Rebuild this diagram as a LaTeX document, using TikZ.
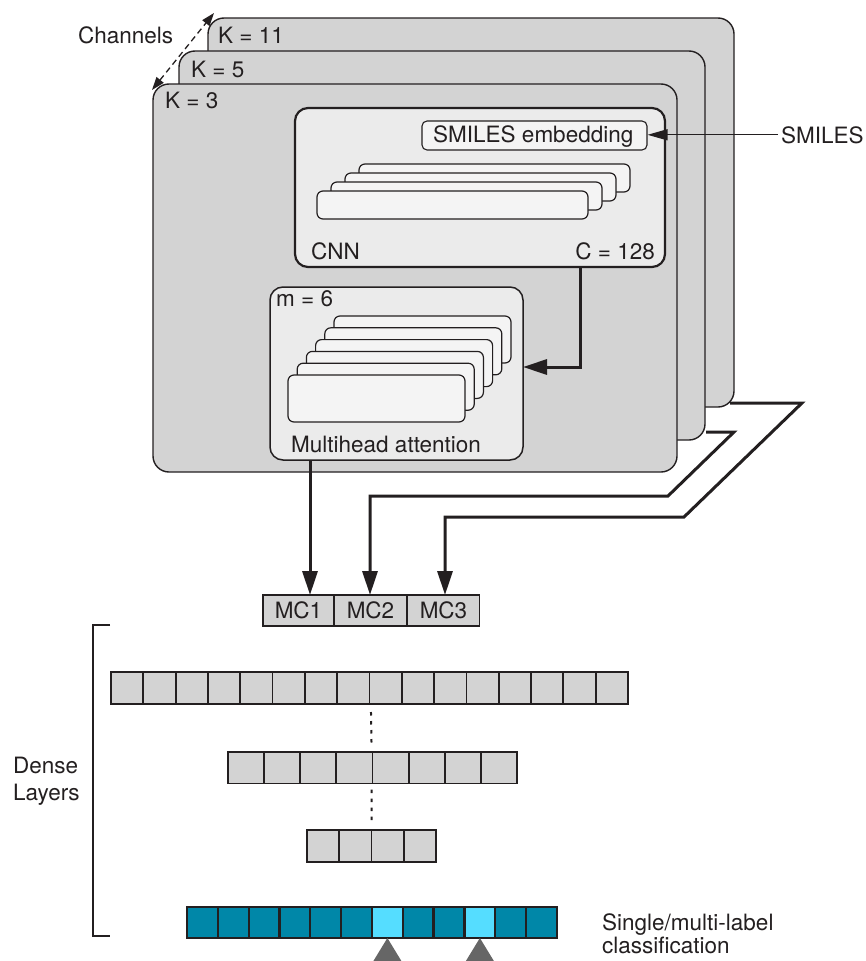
\documentclass[tikz,border=0pt]{standalone}
\usepackage{fontspec}
\setmainfont{TeX Gyre Heros}
\usetikzlibrary{arrows.meta,calc}
\definecolor{ink}{HTML}{231F20}
\definecolor{panelgrey}{HTML}{D3D3D3}
\definecolor{boxgrey}{HTML}{EBEBEB}
\definecolor{sheet}{HTML}{F4F4F4}
\definecolor{outdark}{HTML}{0087A8}
\definecolor{outlight}{HTML}{55DDFF}
\definecolor{pointer}{HTML}{666666}
\begin{document}
\begin{tikzpicture}[x=1pt,y=-1pt,
  font=\fontsize{22.5}{26}\selectfont,
  every node/.style={text=ink},
  corner/.style={anchor=north west, inner sep=0pt, outer sep=0pt},
  panel/.style={corner, draw=ink, fill=panelgrey, line width=1.4pt, rounded corners=16pt},
  cnnbox/.style={corner, draw=ink, fill=boxgrey, line width=2.2pt, rounded corners=13pt},
  attbox/.style={corner, draw=ink, fill=boxgrey, line width=1.5pt, rounded corners=13pt},
  sheetbox/.style={corner, draw=ink, fill=sheet, line width=1.2pt, rounded corners=6pt},
  label/.style={anchor=base west, inner sep=0pt},
  conn/.style={draw=ink, line width=3pt, -{Triangle[length=24pt,width=15pt]}},
  thinarrow/.style={draw=ink, line width=1.3pt, -{Triangle[length=20pt,width=11pt]}},
  mcbox/.style={draw=ink, fill=panelgrey, line width=1.8pt, inner sep=0pt, outer sep=0pt, minimum height=31pt},
  cell/.style={corner, draw=ink, fill=panelgrey, line width=1.8pt},
  outcell/.style={corner, draw=ink, line width=2.3pt, minimum width=30.83pt, minimum height=31pt},
  dots/.style={draw=ink, line width=2pt, dash pattern=on 3.5pt off 5.5pt}
]
\useasboundingbox (0,0) rectangle (866,961);

% channel panels, back to front
\node[panel, minimum width=526pt, minimum height=389pt] (k11) at (208,18) {};
\node[panel, minimum width=526pt, minimum height=389pt] (k5) at (179,51) {};
\node[panel, minimum width=524pt, minimum height=388pt] (k3) at (153,84) {};
\node[label] (k11text) at (218,43) {K = 11};
\node[label] (k5text) at (191,77) {K = 5};
\node[label] (k3text) at (165,108) {K = 3};

% channel axis
\node[label] (channels) at (78,43) {Channels};
\coordinate (chlow) at (152,90);
\coordinate (chhigh) at (214,13);
\draw[draw=ink, line width=1.3pt, dash pattern=on 6pt off 4pt,
  {Triangle[length=13pt,width=9pt]}-{Triangle[length=13pt,width=9pt]}] (chlow) -- (chhigh);

% CNN block
\node[cnnbox, minimum width=370pt, minimum height=159pt] (cnn) at (295,108) {};
\node[draw=ink, fill=sheet, line width=1.1pt, rounded corners=5pt, inner sep=0pt,
  minimum width=225pt, minimum height=29pt] (emb) at (534.5,135.5) {};
\node[label] (embtext) at (433,142) {SMILES embedding};
\foreach \i in {3,2,1,0}
  \node[sheetbox, minimum width=271pt, minimum height=28pt] (conv\i) at ({317+14*\i},{191-9*\i}) {};
\node[label] (cnntext) at (311,259) {CNN};
\node[anchor=base east, inner sep=0pt] (ctext) at (655,259) {C = 128};

% SMILES input
\node[label] (smiles) at (781,143) {SMILES};
\draw[thinarrow] ([xshift=-3pt]smiles.west) -- (emb.east |- smiles.west);

% multihead attention block
\node[attbox, minimum width=253pt, minimum height=173pt] (att) at (270,287) {};
\foreach \i in {5,4,3,2,1,0}
  \node[sheetbox, minimum width=177pt, minimum height=47pt] (head\i) at ({288+9.2*\i},{375-11.8*\i}) {};
\node[label] (mtext) at (276,306) {m = 6};
\node[label] (atttext) at (291,452) {Multihead attention};

% CNN -> attention
\coordinate (elbow) at (580,367);
\draw[conn] (cnn.south -| elbow) -- (elbow) -- (att.east |- elbow);

% concatenated channel outputs
\node[mcbox, minimum width=71pt] (mc1) at (298.5,610.5) {MC1};
\node[mcbox, minimum width=73pt] (mc2) at (370.5,610.5) {MC2};
\node[mcbox, minimum width=72pt] (mc3) at (443.5,610.5) {MC3};

\coordinate (in1) at (310,0);
\coordinate (in2) at (370,0);
\coordinate (in3) at (445,0);
\draw[conn] (att.south -| in1) -- (mc1.north -| in1);

\coordinate (k5out) at (706,432);
\coordinate (k5turn) at (734,432);
\coordinate (k5low) at (668,496);
\draw[conn] (k5out) -- (k5turn) -- (k5low) -- (k5low -| in2) -- (mc2.north -| in2);

\coordinate (k11out) at (730,403);
\coordinate (k11turn) at (802,403);
\coordinate (k11low) at (684,517);
\draw[conn] (k11out) -- (k11turn) -- (k11low) -- (k11low -| in3) -- (mc3.north -| in3);

% dense layers
\foreach \i in {0,...,15}
  \node[cell, minimum width=32.31pt, minimum height=32pt] (la\i) at ({111+32.31*\i},672) {};
\foreach \i in {0,...,7}
  \node[cell, minimum width=36.13pt, minimum height=31.5pt] (lb\i) at ({228+36.13*\i},752) {};
\foreach \i in {0,...,3}
  \node[cell, minimum width=32.25pt, minimum height=32pt] (lc\i) at ({307+32.25*\i},830) {};
\draw[dots] ($(la8.south west)+(1.5,8)$) -- ($(lb4.north west)+(-1,-9)$);
\draw[dots] ($(lb4.south west)+(-1,6)$) -- ($(lc2.north west)+(0,-8)$);

% output layer
\foreach \i in {0,...,11}{
  \ifnum\i=6 \def\cellfill{outlight}\else
  \ifnum\i=9 \def\cellfill{outlight}\else \def\cellfill{outdark}\fi\fi
  \node[outcell, fill=\cellfill] (out\i) at ({187+30.83*\i},907) {};
}
\fill[pointer] (out6.south) -- ++(-14,23) -- ++(28,0) -- cycle;
\fill[pointer] (out9.south) -- ++(-14,23) -- ++(28,0) -- cycle;

% bracket and labels
\draw[draw=ink, line width=1.5pt] (110,625) -- (93,625) -- (93,936) -- (110,936);
\node[label] (dense) at (13,773) {Dense};
\node[label] (layers) at (13,800) {Layers};
\node[label] (single) at (602,930) {Single/multi-label};
\node[label] (classif) at (602,953) {classification};
\end{tikzpicture}
\end{document}
